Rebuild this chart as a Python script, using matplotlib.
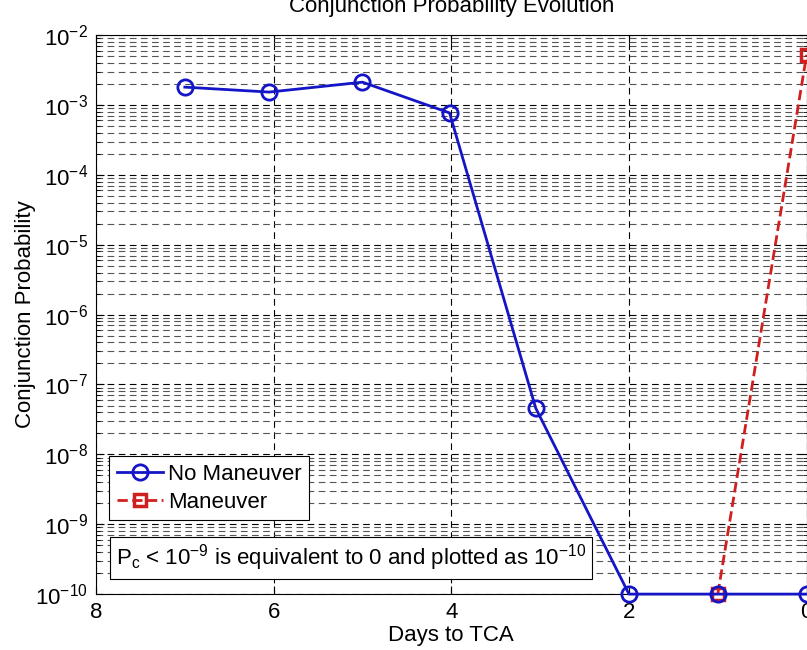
import numpy as np
import matplotlib.pyplot as plt
from matplotlib.ticker import LogLocator, FixedLocator

plt.rcParams['font.family'] = ['Liberation Sans', 'DejaVu Sans']
plt.rcParams['mathtext.fontset'] = 'custom'
plt.rcParams['mathtext.rm'] = 'Liberation Sans'
plt.rcParams['mathtext.it'] = 'Liberation Sans'
plt.rcParams['axes.unicode_minus'] = False

# data
days_nomnv = [7.0, 6.05, 5.0, 4.02, 3.05, 2.0, 1.0, 0.0]
pc_nomnv = [1.8e-3, 1.53e-3, 2.12e-3, 7.7e-4, 4.6e-8, 1e-10, 1e-10, 1e-10]
days_mnv = [1.0, 0.0]
pc_mnv = [1e-10, 5.2e-3]

fig = plt.figure(figsize=(8.07, 6.5), dpi=100)
ax = fig.add_axes([0.119, 0.086, 0.8805, 0.86])

ax.plot(days_nomnv, pc_nomnv, '-o', color='#1515c8', lw=2, ms=11,
        mfc='none', mew=2, label='No Maneuver', clip_on=False, zorder=4)
ax.plot(days_mnv, pc_mnv, '--s', color='#d01f1f', lw=2, ms=9,
        mfc='none', mew=2.5, label='Maneuver', clip_on=False, zorder=3)

ax.set_yscale('log')
ax.set_ylim(1e-10, 1e-2)
ax.set_xlim(8, 0)
ax.xaxis.set_major_locator(FixedLocator([8, 6, 4, 2, 0]))
ax.yaxis.set_major_locator(LogLocator(base=10, numticks=20))
ax.yaxis.set_minor_locator(LogLocator(base=10, subs=np.arange(2, 10), numticks=20))
ax.tick_params(which='both', direction='in', labelsize=16, top=True, right=True)
ax.tick_params(which='major', length=6, pad=6)
ax.tick_params(which='minor', length=3)

ax.grid(True, which='major', ls=(0, (6, 4)), color='black', lw=0.8)
ax.grid(True, which='minor', axis='y', ls=(0, (6, 4)), color='#555555', lw=0.8)

ax.set_xlabel('Days to TCA', fontsize=16, labelpad=1)
ax.set_ylabel('Conjunction Probability', fontsize=16, labelpad=-1)
# title sits partly above the top edge, as in the source image
fig.text(0.56, 1 - 12 / 650, 'Conjunction Probability Evolution', fontsize=16,
         ha='center', va='baseline')

leg = ax.legend(loc='lower left', bbox_to_anchor=(0.018, 0.132), fontsize=16,
                fancybox=False, edgecolor='black', framealpha=1,
                handlelength=2.1, borderpad=0.35, labelspacing=0.3,
                handletextpad=0.2, borderaxespad=0)
leg.get_frame().set_linewidth(0.8)

ax.text(0.028, 0.037, r'P$_\mathregular{c}$ < 10$^{\mathregular{-9}}$ is equivalent to 0 and plotted as 10$^{\mathregular{-10}}$',
        transform=ax.transAxes, fontsize=16, va='bottom', ha='left',
        bbox=dict(boxstyle='square,pad=0.25', fc='white', ec='black', lw=0.8))

for s in ax.spines.values():
    s.set_linewidth(0.8)

plt.savefig('out.png', dpi=100)
